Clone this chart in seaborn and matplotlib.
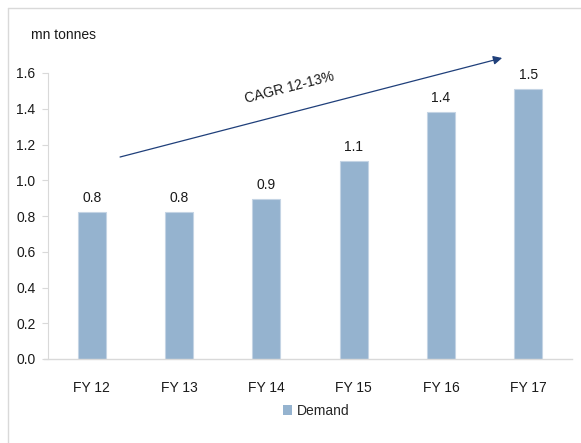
import matplotlib
matplotlib.use("Agg")
import matplotlib.pyplot as plt
from matplotlib.patches import Patch
from matplotlib.lines import Line2D
import seaborn as sns
import pandas as pd

years = ["FY 12", "FY 13", "FY 14", "FY 15", "FY 16", "FY 17"]
demand = [0.82, 0.82, 0.895, 1.11, 1.38, 1.51]
y_ticks = [0.0, 0.2, 0.4, 0.6, 0.8, 1.0, 1.2, 1.4, 1.6]
unit_label = "mn tonnes"
series_name = "Demand"
cagr_text = "CAGR 12-13%"

sns.set_theme(style="white")
plt.rcParams["font.family"] = ["Liberation Sans", "DejaVu Sans"]

bar_color = "#95b3cf"
arrow_color = "#1f3f7a"
frame_gray = "#d9d9d9"

df = pd.DataFrame({"year": years, "demand": demand})

fig = plt.figure(figsize=(5.81, 4.43), dpi=100)
ax = fig.add_axes([48 / 581, 1 - 359 / 443, (572 - 48) / 581, (359 - 73) / 443])

sns.barplot(data=df, x="year", y="demand", color=bar_color, width=0.32,
            edgecolor="#c4d4e4", linewidth=0.8, saturation=1, ax=ax)

for cont in ax.containers:
    ax.bar_label(cont, labels=[f"{v:.1f}" for v in demand], padding=5,
                 fontsize=10, color="#1a1a1a")

ax.set_xlim(-0.5, len(years) - 0.5)
ax.set_ylim(0, 1.6)
ax.set_yticks(y_ticks)
ax.set_yticklabels([f"{t:.1f}" for t in y_ticks], fontsize=10, color="#1a1a1a")
ax.tick_params(axis="y", which="major", left=True, length=4, width=0.8,
               color=frame_gray, pad=5)
ax.tick_params(axis="x", bottom=False, labelsize=10, labelcolor="#1a1a1a", pad=10)
ax.set_xlabel("")
ax.set_ylabel("")

for side in ("top", "right"):
    ax.spines[side].set_visible(False)
ax.spines["left"].set_color(frame_gray)
ax.spines["left"].set_linewidth(0.8)
ax.spines["bottom"].set_color(frame_gray)
ax.spines["bottom"].set_linewidth(1.0)
ax.spines["bottom"].set_bounds(-0.55, len(years) - 0.5)

# growth trend arrow with CAGR annotation
ax.annotate("", xy=(4.70, 1.684), xytext=(0.325, 1.13), xycoords="data",
            annotation_clip=False,
            arrowprops=dict(arrowstyle="-|>", color=arrow_color, lw=0.9,
                            mutation_scale=13, shrinkA=0, shrinkB=0))
ax.text(2.27, 1.52, cagr_text, rotation=14.5, ha="center", va="center",
        fontsize=10, color="#1a1a1a", rotation_mode="anchor")

fig.text(31 / 581, 1 - 35 / 443, unit_label, ha="left", va="center",
         fontsize=10, color="#1a1a1a")

fig.legend(handles=[Patch(facecolor=bar_color, edgecolor="none", label=series_name)],
           loc="center", bbox_to_anchor=(316 / 581, 1 - 411 / 443), frameon=False,
           fontsize=10, handlelength=0.7, handleheight=0.7, handletextpad=0.3)

# panel frame (left and top edges)
fig.add_artist(Line2D([7.5 / 581, 7.5 / 581], [0, 1 - 8 / 443],
                      transform=fig.transFigure, color=frame_gray, lw=1))
fig.add_artist(Line2D([7.5 / 581, 1], [1 - 8 / 443, 1 - 8 / 443],
                      transform=fig.transFigure, color=frame_gray, lw=1))

fig.savefig("out.png", dpi=100)
